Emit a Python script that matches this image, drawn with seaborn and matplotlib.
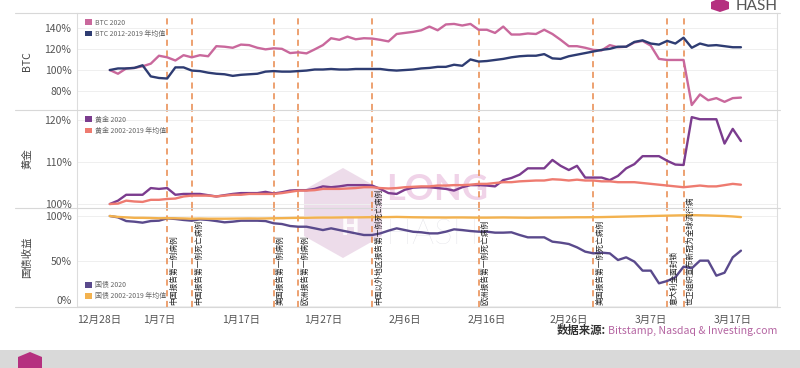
import matplotlib
matplotlib.use('Agg')
import matplotlib.pyplot as plt
from matplotlib.lines import Line2D
from matplotlib.patches import Rectangle, Patch, Polygon
import seaborn as sns
import pandas as pd

# ---------------- data ----------------
start_date = '2020-01-01'
end_date = '2020-03-18'

btc_2020 = [100, 96.5, 101.5, 102, 103.5, 106, 113.5, 112, 109, 114,
            112, 114, 113, 122.5, 122, 121, 124, 123.5, 121, 119.5,
            120.5, 120, 116, 116.7, 115.7, 119.5, 123.5, 130, 128.5, 131.5,
            129, 130, 129.7, 128.5, 127, 134, 135, 136, 137.5, 141,
            137.5, 143, 143.5, 142, 143.5, 138, 138, 135, 141, 133.5,
            133.5, 134.5, 134, 138, 134, 128.5, 122.5, 122.5, 121, 119,
            118.5, 123.5, 121.5, 122, 126, 127.5, 123, 110.5, 109.5, 109.5,
            109.5, 67, 77, 71.5, 73.5, 70, 73.5, 74]
btc_avg = [100, 101.5, 101.5, 102, 104.5, 94, 92.5, 92, 102.5, 102.5,
           99.5, 99, 97.5, 96.5, 96, 94.5, 95.5, 96, 96.5, 98.5,
           99, 98.5, 98.5, 99, 99.5, 100.5, 100.5, 101, 100.5, 100.5,
           101, 101, 101, 101, 100, 99.5, 100, 100.5, 101.5, 102,
           103, 103, 105, 104, 110, 108, 108.5, 109.5, 110.5, 112,
           113, 113.5, 113.5, 115, 111, 110.5, 113, 114.5, 116, 117.5,
           119, 120, 122, 122, 126.5, 128, 125, 124, 127.5, 125,
           130.5, 121, 125, 123, 123.5, 122.5, 121.5, 121.5]
gold_2020 = [100, 100.8, 102.2, 102.2, 102.2, 103.8, 103.6, 103.8, 102.2, 102.4,
             102.4, 102.4, 102.1, 101.8, 102.1, 102.4, 102.6, 102.6, 102.6, 102.9,
             102.5, 102.8, 103.2, 103.3, 103.3, 103.6, 104.2, 104.0, 104.2, 104.5,
             104.5, 104.5, 104.4, 103.6, 102.6, 102.4, 103.4, 103.9, 104, 104,
             103.8, 103.6, 103.2, 104, 104.5, 104.5, 104.4, 104.2, 105.7, 106.2,
             107, 108.5, 108.5, 108.5, 110.5, 109.1, 108.1, 109.1, 106.3, 106.3,
             106.3, 105.7, 106.7, 108.5, 109.5, 111.4, 111.4, 111.4, 110.3, 109.4,
             109.3, 120.7, 120.2, 120.2, 120.2, 114.4, 117.9, 115]
gold_avg = [100, 100.1, 100.8, 100.6, 100.5, 101, 101, 101.2, 101.3, 101.8,
            102, 102, 102, 101.8, 102, 102.2, 102.2, 102.4, 102.4, 102.4,
            102.4, 102.6, 102.9, 103.2, 103.2, 103.3, 103.6, 103.6, 103.6, 103.7,
            103.8, 104, 104, 103.8, 103.7, 103.8, 104, 104.1, 104.2, 104.2,
            104.4, 104.4, 104.5, 104.5, 104.6, 104.8, 104.8, 105, 105.2, 105.2,
            105.4, 105.5, 105.6, 105.6, 105.9, 105.8, 105.6, 105.8, 105.6, 105.6,
            105.4, 105.4, 105.2, 105.2, 105.2, 105, 104.8, 104.6, 104.4, 104.2,
            104, 104.2, 104.4, 104.2, 104.2, 104.5, 104.8, 104.6]
bond_2020 = [100, 98.5, 94.4, 93.7, 92.6, 94.4, 94.8, 97.4, 96.7, 95.6,
             94.8, 96.3, 95.6, 94.4, 93, 93.7, 94.8, 94.8, 94.8, 94.4,
             91.9, 91.1, 88.9, 88.1, 88.1, 86.3, 84.4, 86.3, 84.4, 82.6,
             80.7, 78.9, 78.9, 80.7, 83.7, 86.3, 84.4, 82.5, 81.9, 80.7,
             80.7, 82.6, 85.2, 84.4, 83.3, 82.6, 82.6, 81.5, 81.5, 81.9,
             78.9, 76.3, 76.3, 76.3, 71.5, 70.4, 68.9, 65.2, 60.4, 58.5,
             59.3, 58.5, 51.1, 54.1, 49.3, 39.3, 39.3, 25.2, 27.8, 31.9,
             43.7, 41.9, 50.4, 50.4, 33.7, 37, 54.1, 61.5]
bond_avg = [100, 99, 98.5, 98, 98, 97.8, 97.5, 97.6, 97.5, 97.3,
            97, 97.2, 97, 97, 97, 97.1, 97.2, 97.3, 97.2, 97.3,
            97.5, 97.6, 97.8, 98, 98, 98.2, 98.3, 98.3, 98.4, 98.5,
            98.5, 98.6, 98.7, 98.7, 98.8, 99, 98.8, 98.6, 98.5, 98.4,
            98.4, 98.3, 98.4, 98.4, 98.3, 98.2, 98.2, 98.3, 98.4, 98.3,
            98.2, 98.1, 98.2, 98.3, 98.3, 98.4, 98.5, 98.6, 98.6, 98.7,
            98.8, 99, 99.2, 99.4, 99.6, 99.8, 100, 100.2, 100.4, 100.6,
            100.8, 101, 100.8, 100.6, 100.3, 100, 99.5, 98.8]

series_names = ['BTC 2020', 'BTC 2012-2019 年均值',
                '黄金 2020', '黄金 2002-2019 年均值',
                '国债 2020', '国债 2002-2019 年均值']
series_colors = ['#c9689c', '#2e3c72', '#7b3c8e', '#ee7b70', '#5a4a8c', '#f3b24f']

event_dates = ['2020-01-08', '2020-01-11', '2020-01-21', '2020-01-24', '2020-02-02',
               '2020-02-15', '2020-02-29', '2020-03-09', '2020-03-11']
event_labels = ['中国报告第一例病例', '中国报告第一例死亡病例', '美国报告第一例病例',
                '欧洲报告第一例病例', '中国以外地区报告第一例死亡病例', '欧洲报告第一例死亡病例',
                '美国报告第一例死亡病例', '意大利全面封锁', '世卫组织宣布新冠为全球流行病']

tick_dates = ['2019-12-28', '2020-01-07', '2020-01-17', '2020-01-27', '2020-02-06',
              '2020-02-16', '2020-02-26', '2020-03-07', '2020-03-17']
tick_labels = ['12月28日', '1月7日', '1月17日', '1月27日', '2月6日',
               '2月16日', '2月26日', '3月7日', '3月17日']

# ---------------- style ----------------
sns.set_theme(style='white')
plt.rcParams['font.family'] = ['Noto Sans CJK SC', 'DejaVu Sans']

W, H = 800, 368
fig = plt.figure(figsize=(W / 100, H / 100), dpi=100)
fig.patch.set_facecolor('white')


def fx(px):
    return px / W


def fy(py):
    return 1 - py / H


dates = pd.date_range(start_date, end_date, freq='D')
values = [btc_2020, btc_avg, gold_2020, gold_avg, bond_2020, bond_avg]
frames = []
for name, vals in zip(series_names, values):
    frames.append(pd.DataFrame({'date': dates, 'value': vals, 'series': name}))
df = pd.concat(frames, ignore_index=True)
palette = dict(zip(series_names, series_colors))

L, R = 77, 777
panels = [(13, 110), (110, 208), (208, 307)]
axes = []
for top, bot in panels:
    ax = fig.add_axes([fx(L), fy(bot), fx(R - L), (bot - top) / H])
    ax.set_facecolor('none')
    axes.append(ax)
ax1, ax2, ax3 = axes

x0 = pd.Timestamp('2019-12-28')
x1 = x0 + pd.Timedelta(days=85.4)

ylims = [(62.3, 153.8), (99.05, 122.4), (-1.1, 108.9)]
yticks = [[80, 100, 120, 140], [100, 110, 120], [0, 50, 100]]
ynames = ['BTC', '黄金', '国债收益']

for i, ax in enumerate(axes):
    sub = df[df['series'].isin(series_names[2 * i:2 * i + 2])]
    sns.lineplot(data=sub, x='date', y='value', hue='series', palette=palette,
                 linewidth=1.7, ax=ax, legend=False, zorder=3)
    ax.set_xlim(x0, x1)
    ax.set_ylim(*ylims[i])
    ax.set_yticks(yticks[i])
    ax.set_yticklabels([f'{t}%' for t in yticks[i]], fontsize=7.5, color='#555555')
    ax.set_xlabel('')
    ax.set_ylabel('')
    ax.tick_params(axis='both', length=0, pad=4)
    ax.grid(axis='y', color='#efefef', linewidth=0.7, zorder=0)
    ax.grid(axis='x', visible=False)
    for s in ['top', 'bottom']:
        ax.spines[s].set_visible(False)
    for s in ['left', 'right']:
        ax.spines[s].set_color('#dddddd')
        ax.spines[s].set_linewidth(0.8)
    for d in event_dates:
        ax.axvline(pd.Timestamp(d), color='#e8884a', linestyle=(0, (4, 3)),
                   linewidth=1.1, zorder=2)
    if i < 2:
        ax.set_xticks([])
    # legend
    handles = [Patch(facecolor=c, edgecolor='none') for c in series_colors[2 * i:2 * i + 2]]
    labs = series_names[2 * i:2 * i + 2]
    if i < 2:
        leg = ax.legend(handles, labs, loc='upper left', bbox_to_anchor=(0.008, 0.97),
                        frameon=False, fontsize=5.0, handlelength=0.9, handleheight=0.9,
                        handletextpad=0.5, labelspacing=0.45, borderaxespad=0)
    else:
        leg = ax.legend(handles, labs, loc='lower left', bbox_to_anchor=(0.008, 0.04),
                        frameon=False, fontsize=5.0, handlelength=0.9, handleheight=0.9,
                        handletextpad=0.5, labelspacing=0.45, borderaxespad=0)
    for t in leg.get_texts():
        t.set_color('#666666')
    fig.text(fx(27), fy((panels[i][0] + panels[i][1]) / 2), ynames[i], rotation=90,
             ha='center', va='center', fontsize=7.5, color='#444444')

# lowest treasury label sits just above the axis floor, as in the reference
ax3.get_yticklabels()[0].set_va('bottom')

ax3.set_xticks(pd.to_datetime(tick_dates))
ax3.set_xticklabels(tick_labels, fontsize=7.5, color='#555555')
ax3.tick_params(axis='x', pad=6)
ax3.get_xticklabels()[0].set_ha('left')

# event labels
for d, lab in zip(event_dates, event_labels):
    ax3.annotate(lab, xy=(pd.Timestamp(d), 0.02), xycoords=('data', 'axes fraction'),
                 xytext=(2.2, 0), textcoords='offset points', rotation=90,
                 ha='left', va='bottom', fontsize=5.6, color='#222222',
                 annotation_clip=False, zorder=6)

# panel separators
for yy in [13, 110, 208, 307]:
    fig.add_artist(Line2D([fx(15), fx(780)], [fy(yy), fy(yy)], color='#d8d8d8',
                          linewidth=0.8, transform=fig.transFigure))

# watermark
hexpts = [(343, 168), (382, 190), (382, 236), (343, 258), (304, 236), (304, 190)]
fig.add_artist(Polygon([(fx(a), fy(b)) for a, b in hexpts], closed=True,
                       facecolor='#d9b2d2', edgecolor='none', alpha=0.45,
                       transform=fig.transFigure, zorder=-2))
fig.text(fx(350), fy(228), 'H', fontsize=18, color='white', ha='center', va='center',
         fontweight='bold', alpha=0.9, zorder=-1)
fig.text(fx(386), fy(200), 'LONG', fontsize=26, fontweight='bold', color='#e6b6da',
         alpha=0.6, ha='left', va='baseline', zorder=-1, family=['Lato', 'DejaVu Sans'])
fig.text(fx(386), fy(244), 'HASH', fontsize=25, fontweight='light', color='#c9c9d3',
         alpha=0.6, ha='left', va='baseline', zorder=-1, family=['Lato', 'DejaVu Sans'])

# top-right logo
fig.text(fx(736), fy(10), 'HASH', fontsize=11, color='#555555', ha='left', va='baseline',
         family=['Lato', 'DejaVu Sans'])
logo = [(720, -2), (729, 2), (729, 9), (720, 12), (711, 9), (711, 2)]
fig.add_artist(Polygon([(fx(a), fy(b)) for a, b in logo], closed=True,
                       facecolor='#b5307f', edgecolor='none', transform=fig.transFigure))

# source text
fig.canvas.draw()
src = fig.text(fx(777), fy(334), 'Bitstamp, Nasdaq & Investing.com', fontsize=7.6,
               color='#b565a2', ha='right', va='baseline')
renderer = fig.canvas.get_renderer()
bb = src.get_window_extent(renderer=renderer)
fig.text(bb.x0 / W - 0.002, fy(334), '数据来源:', fontsize=8.2, fontweight='bold',
         color='#333333', ha='right', va='baseline')

# bottom band
fig.add_artist(Rectangle((0, 0), 1, 18 / H, transform=fig.transFigure,
                         facecolor='#d9d9d9', edgecolor='none', zorder=0))
blogo = [(30, 352), (42, 357), (42, 368), (30, 372), (18, 368), (18, 357)]
fig.add_artist(Polygon([(fx(a), fy(b)) for a, b in blogo], closed=True,
                       facecolor='#b5307f', edgecolor='none', transform=fig.transFigure))

fig.savefig('out.png', dpi=100)
